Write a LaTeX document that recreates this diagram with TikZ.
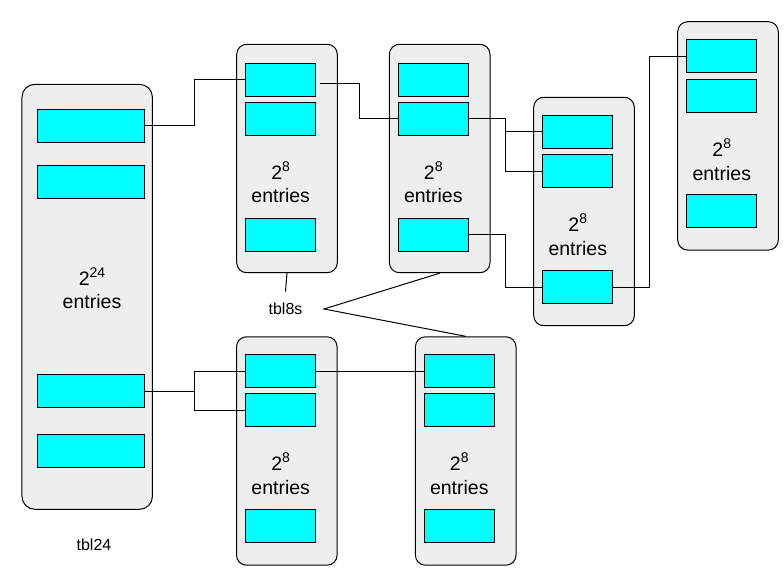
\documentclass[tikz,border=0pt]{standalone}
\usepackage{fontspec}
\setmainfont{Liberation Sans}
\usepackage{tikz}
\usetikzlibrary{shapes}

\definecolor{tblgray}{RGB}{238,238,238}
\definecolor{slotcyan}{RGB}{0,255,255}
\newcommand{\pw}[1]{\raisebox{0.4em}{\fontsize{14}{14}\selectfont #1}}

\begin{document}
\begin{tikzpicture}[x=1pt,y=-1pt,line width=1pt]
\useasboundingbox (0,0) rectangle (784,575);
\tikzstyle{tbl}=[rectangle,draw, fill=tblgray, rounded corners=10pt, minimum width = 100.6pt,
    minimum height = 228.4pt, inner sep=0pt]
\tikzstyle{slot}=[rectangle,draw, fill=slotcyan, minimum width = 70pt,
    minimum height = 33pt, inner sep=0pt]
\tikzstyle{cnt}=[align=center, anchor=base, inner sep=0pt, font=\fontsize{19.5}{23.5}\selectfont]
\tikzstyle{lbl}=[inner sep=0pt, font=\fontsize{16}{19}\selectfont]

% tbl24
\node[tbl, rounded corners=13pt, minimum width = 130.5pt,
    minimum height = 425pt] (t) at (87.2,296.8) {};
\node[slot, minimum width = 107pt] (t1) at (90.8,125.8) {};
\node[slot, minimum width = 107pt] (t2) at (90.8,181.8) {};
\node[slot, minimum width = 107pt] (t3) at (90.8,391.3) {};
\node[slot, minimum width = 107pt] (t4) at (90.8,450.8) {};
\node[cnt] (tt) at (92,308.5) {2\pw{24}\\entries};

% tbl8s, top row
\node[tbl] (a) at (287,158.5) {};
 \node[slot] (a1) at (280.7,79.7) {};
 \node[slot] (a2) at (280.7,118.8) {};
 \node[slot] (a3) at (280.7,234.5) {};
\node[cnt] (ta) at (280.7,202.7) {2\pw{8}\\entries};

\node[tbl] (b) at (439.7,158.5) {};
 \node[slot] (b1) at (433.3,79.7) {};
 \node[slot] (b2) at (433.3,118.8) {};
 \node[slot] (b3) at (433.3,234.5) {};
\node[cnt] (tb) at (433.3,202.7) {2\pw{8}\\entries};

\node[tbl] (c) at (584,211.5) {};
 \node[slot] (c1) at (577.8,131.8) {};
 \node[slot] (c2) at (577.8,171.3) {};
 \node[slot] (c3) at (577.8,287) {};
\node[cnt] (tc) at (577.8,255.2) {2\pw{8}\\entries};

\node[tbl] (d) at (728,135.9) {};
 \node[slot] (d1) at (721.8,56.3) {};
 \node[slot] (d2) at (721.8,95.7) {};
 \node[slot] (d3) at (721.8,211.3) {};
\node[cnt] (td) at (721.8,180.2) {2\pw{8}\\entries};

% tbl8s, bottom row
\node[tbl] (e) at (286.8,451) {};
 \node[slot] (e1) at (280.7,371.3) {};
 \node[slot] (e2) at (280.7,410.3) {};
 \node[slot] (e3) at (280.7,525.8) {};
\node[cnt] (te) at (280.7,494.2) {2\pw{8}\\entries};

\node[tbl] (f) at (465.7,451) {};
 \node[slot] (f1) at (459.3,371.3) {};
 \node[slot] (f2) at (459.3,410.3) {};
 \node[slot] (f3) at (459.3,525.8) {};
\node[cnt] (tf) at (459.3,494.2) {2\pw{8}\\entries};

% labels
\node[lbl] (l24) at (94,544.5) {tbl24};
\node[lbl, minimum width = 76pt, minimum height = 34pt] (l8) at (285.5,309) {tbl8s};

% links
\draw (t1.east) -- ++(50,0) |- (a1.west);
\draw ([xshift=3.6pt,yshift=-4.3pt]a1.east) -- ++(40,0) |- (b2.west);
\draw (b2.east) -- ++(37,0) coordinate (j1) |- (c1.west);
\draw (j1) |- (c2.west);
\draw (b3.east) -- ++(37,0) |- (c3.west);
\draw (c3.east) -- ++(36,0) |- (d1.west);
\draw (t3.east) -- ++(50,0) coordinate (j2);
\draw (j2) |- (e1.west);
\draw (j2) |- (e2.west);
\draw (e1.east) -- (f1.west);

\draw (a.south) -- (l8.north);
\draw (b.south) -- (l8.east) -- (f.north);
\end{tikzpicture}
\end{document}
